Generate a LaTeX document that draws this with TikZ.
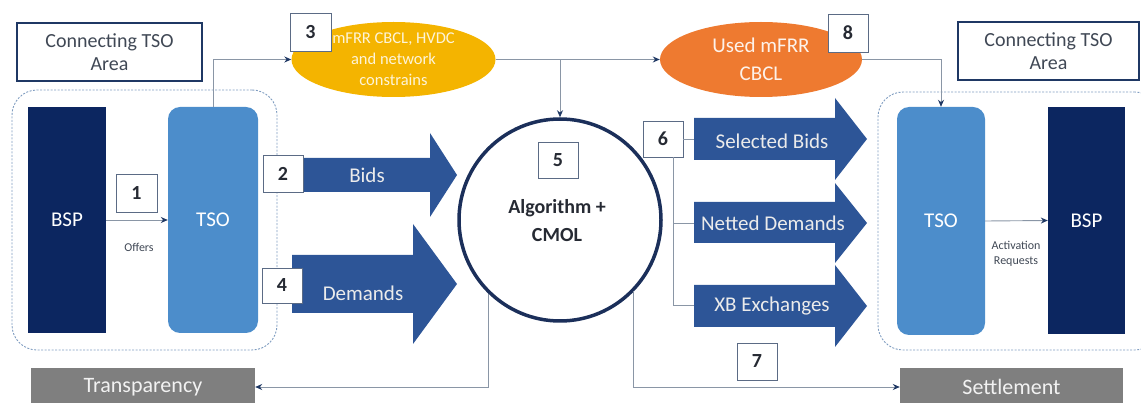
\documentclass[tikz,border=0pt]{standalone}
\usepackage{fontspec}
\setmainfont{Carlito}
\usetikzlibrary{arrows.meta,calc,shapes.geometric}
\definecolor{navy}{HTML}{0C2660}
\definecolor{tsoc}{HTML}{4C8DCB}
\definecolor{arrowc}{HTML}{2D5597}
\definecolor{circc}{HTML}{1B2F5A}
\definecolor{yel}{HTML}{F4B400}
\definecolor{ora}{HTML}{EE7A30}
\definecolor{grayc}{HTML}{7F7F7F}
\definecolor{numc}{HTML}{5B6B85}
\definecolor{numtext}{HTML}{262A33}
\definecolor{linec}{HTML}{8A96A6}
\definecolor{contc}{HTML}{7F9CC0}
\definecolor{conntext}{HTML}{404855}
\definecolor{tipc}{HTML}{1F3864}
\begin{document}
\begin{tikzpicture}[x=1pt,y=-1pt,
  num/.style={draw=numc, fill=white, line width=0.9pt, minimum width=40pt, minimum height=37pt, inner sep=0pt, font=\fontsize{20}{22}\selectfont\bfseries, text=numtext},
  bar/.style={rectangle, inner sep=0pt, text=white, font=\fontsize{21}{24}\selectfont},
  cont/.style={draw=contc, dashed, dash pattern=on 2pt off 1.5pt, line width=0.9pt, rounded corners=25pt, inner sep=0pt},
  connbox/.style={draw=tipc, line width=1.6pt, inner sep=0pt, align=center, text=conntext, font=\fontsize{20}{23}\selectfont},
  ell/.style={ellipse, inner sep=0pt, align=center},
  arr/.style={draw=linec, line width=0.9pt, -{Stealth[length=7pt,width=6pt,color=tipc]}},
  ln/.style={draw=linec, line width=0.9pt},
  lbl/.style={text=white!92!black, font=\fontsize{21}{24}\selectfont, inner sep=0pt},
  small/.style={text=conntext, font=\fontsize{12}{16}\selectfont, inner sep=0pt, align=center}
]
\useasboundingbox (0,0) rectangle (1141,403);

% containers
\node[cont, minimum width=265pt, minimum height=260pt] (contL) at (144.5,220) {};
\node[cont, minimum width=282pt, minimum height=258pt] (contR) at (1019,221) {};

% Connecting TSO Area boxes
\node[connbox, minimum width=185pt, minimum height=58pt] (connL) at (109.5,52) {Connecting TSO\\Area};
\node[connbox, minimum width=181pt, minimum height=58pt] (connR) at (1048.5,51) {Connecting TSO\\Area};

% BSP / TSO
\node[bar, fill=navy, minimum width=78pt, minimum height=226pt] (bspL) at (67,220) {BSP};
\node[bar, fill=tsoc, rounded corners=12pt, minimum width=90pt, minimum height=226pt] (tsoL) at (213,220) {TSO};
\node[bar, fill=tsoc, rounded corners=12pt, minimum width=88pt, minimum height=228pt] (tsoR) at (941,221) {TSO};
\node[bar, fill=navy, minimum width=77pt, minimum height=227pt] (bspR) at (1086.5,220.5) {BSP};

\draw[arr] (bspL.east) -- (tsoL.west);
\node[small] (offers) at (139,247) {Offers};
\draw[arr] (tsoR.east) -- (bspR.west);
\node[small, font=\fontsize{12}{15}\selectfont] (actreq) at (1016,254) {Activation\\Requests};

% Transparency / Settlement
\node[bar, fill=grayc, minimum width=224pt, minimum height=38pt, text=white!95!black, font=\fontsize{22}{24}\selectfont] (trans) at (143,387) {Transparency};
\node[bar, fill=grayc, minimum width=223pt, minimum height=38pt, text=white!95!black, font=\fontsize{22}{24}\selectfont] (settle) at (1011.5,387) {Settlement};

% big arrows left
\fill[arrowc] (292,158) -- (430,158) -- (430,133) -- (457,175) -- (430,217) -- (430,192) -- (292,192) -- cycle;
\node[lbl] (bids) at (367,175) {Bids};
\fill[arrowc] (292,255) -- (413,255) -- (413,224) -- (457,284) -- (413,344) -- (413,313) -- (292,313) -- cycle;
\node[lbl] (demands) at (363,293) {Demands};

% big arrows right
\fill[arrowc] (694,118) -- (835,118) -- (835,98) -- (867,139) -- (835,180) -- (835,160) -- (694,160) -- cycle;
\node[lbl] (selbids) at (772,141) {Selected Bids};
\fill[arrowc] (694,202) -- (835,202) -- (835,183) -- (867,223) -- (835,263) -- (835,243) -- (694,243) -- cycle;
\node[lbl] (netted) at (773,223) {Netted Demands};
\fill[arrowc] (694,285) -- (835,285) -- (835,265) -- (867,306) -- (835,347) -- (835,327) -- (694,327) -- cycle;
\node[lbl] (xb) at (772,306) {XB Exchanges};
\coordinate (selL) at (694,139);
\coordinate (netL) at (694,223);
\coordinate (xbL) at (694,305);

% circle
\node[circle, draw=circc, line width=3.5pt, fill=white, minimum size=202pt, inner sep=0pt] (circ) at (560,220) {};
\node[inner sep=0pt, align=center, text=numtext, font=\fontsize{20}{28}\selectfont\bfseries] (algo) at (557,221) {Algorithm +\\CMOL};

% ellipses
\node[ell, fill=yel, minimum width=204pt, minimum height=75pt, text=white!85!yel, font=\fontsize{16.5}{21}\selectfont] (yell) at (393.5,59.5) {mFRR CBCL, HVDC\\and network\\constrains};
\node[ell, fill=ora, minimum width=202pt, minimum height=75pt, text=white!90!ora, font=\fontsize{21}{28}\selectfont] (orell) at (761,59.5) {Used mFRR\\CBCL};

% connectors
\draw[arr] (tsoL.north) |- (yell.west);
\draw[arr] (yell.east) -- (orell.west);
\draw[arr] (circ.north |- yell.east) -- (circ.north);
\draw[arr] (orell.east) -| (tsoR.north);
\draw[arr] (circ.-134) |- (trans.east);
\draw[arr] (circ.-44) |- (settle.west);

% number boxes
\node[num, minimum width=41pt, minimum height=38pt] (n1) at (136.5,193) {1};
\node[num] (n2) at (283,173.5) {2};
\node[num, minimum width=41pt, minimum height=38pt] (n3) at (310.5,32) {3};
\node[num, minimum height=35pt] (n4) at (282,285.5) {4};
\node[num, minimum height=36pt] (n5) at (558,160) {5};
\node[num, minimum height=36pt] (n6) at (663,139) {6};
\node[num] (n7) at (757,361.5) {7};
\node[num, minimum height=38pt] (n8) at (848,33) {8};

% box 6 branches
\draw[ln] (n6.south -| 673,0) |- (xbL);
\draw[ln] (n6.east) -- (selL);
\draw[ln] (673,223) -- (netL);
\end{tikzpicture}
\end{document}
